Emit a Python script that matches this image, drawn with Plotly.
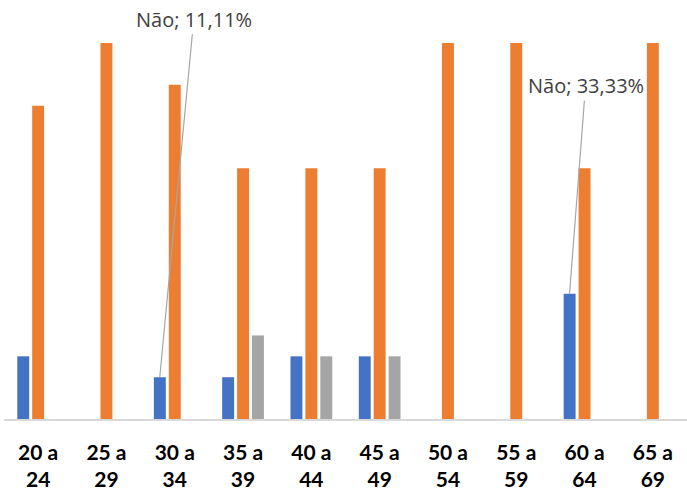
import plotly.graph_objects as go

categories = ["20 a 24", "25 a 29", "30 a 34", "35 a 39", "40 a 44",
              "45 a 49", "50 a 54", "55 a 59", "60 a 64", "65 a 69"]
tick_labels = ["20 a<br>24", "25 a<br>29", "30 a<br>34", "35 a<br>39", "40 a<br>44",
               "45 a<br>49", "50 a<br>54", "55 a<br>59", "60 a<br>64", "65 a<br>69"]
nao = [16.67, 0, 11.11, 11.11, 16.67, 16.67, 0, 0, 33.33, 0]
sim = [83.33, 100, 88.89, 66.67, 66.67, 66.67, 100, 100, 66.67, 100]
outro = [0, 0, 0, 22.22, 16.67, 16.67, 0, 0, 0, 0]

fig = go.Figure()
fig.add_bar(x=categories, y=nao, name="Não", marker_color="#4472C4", marker_line_width=0)
fig.add_bar(x=categories, y=sim, name="Sim", marker_color="#ED7D31", marker_line_width=0)
fig.add_bar(x=categories, y=outro, name="Não sabe", marker_color="#A5A5A5", marker_line_width=0)

for cat, val, ax, ay in [("30 a 34", nao[2], 34, -358), ("60 a 64", nao[8], 16, -208)]:
    fig.add_annotation(x=cat, y=val, xref="x", yref="y", xshift=-15,
                       text=f"Não; {val:.2f}%".replace(".", ","),
                       showarrow=True, arrowhead=0, arrowwidth=1.2, arrowcolor="#A6A6A6",
                       ax=ax, ay=ay, standoff=0, startstandoff=0,
                       font=dict(family="Open Sans", size=20, color="#404040"))

fig.update_layout(
    width=687, height=491,
    margin=dict(l=4, r=0, t=43, b=69),
    plot_bgcolor="white", paper_bgcolor="white",
    barmode="group", bargap=0.345, bargroupgap=0.2,
    showlegend=False,
    xaxis=dict(tickmode="array", tickvals=categories, ticktext=tick_labels,
               tickfont=dict(family="Lato", size=21, color="black", weight="bold"),
               ticklabelstandoff=14,
               showline=True, linecolor="#D9D9D9", linewidth=1.5, ticks="",
               showgrid=False),
    yaxis=dict(range=[0, 100], visible=False, showgrid=False, zeroline=False),
)
fig.write_html("out.html")
